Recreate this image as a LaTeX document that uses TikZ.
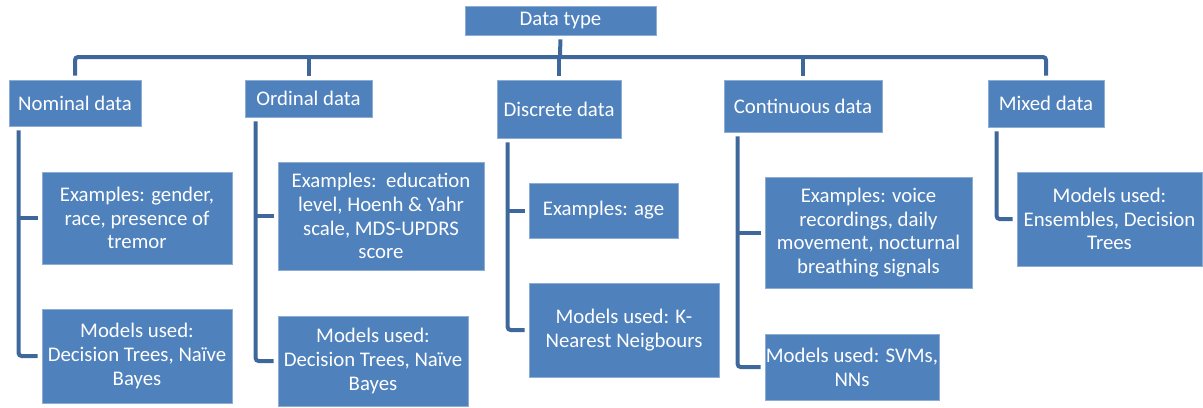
\documentclass[tikz,border=0pt]{standalone}
\usepackage{fontspec}
\setmainfont{Carlito}
\definecolor{boxblue}{RGB}{79, 129, 189}
\definecolor{linkblue}{RGB}{62, 104, 156}
\usetikzlibrary{positioning, calc}

\begin{document}
\begin{tikzpicture}[x=0.5pt, y=-0.5pt,
	box/.style={draw=boxblue!65!white, line width=0.4pt, fill=boxblue, text=white,
		align=center, inner sep=0pt, font=\fontsize{10.4}{11.9}\selectfont},
	link/.style={draw=linkblue, line width=2pt, rounded corners=1.5pt,
		shorten <=2pt, shorten >=2pt}]
	\useasboundingbox (0,0) rectangle (1203,407);

	\node[box, minimum width=95.5pt, minimum height=14.5pt] (top) at (560.5,20.5) {Data type};

	\node[box, minimum width=66pt, minimum height=23pt] (nom) at (75,103) {Nominal data};
	\node[box, minimum width=63.5pt, minimum height=18.5pt] (ord) at (308.5,98.5) {Ordinal data};
	\node[box, minimum width=62pt, minimum height=29pt] (dis) at (559,109) {Discrete data};
	\node[box, minimum width=79pt, minimum height=26pt] (con) at (803,106) {Continuous data};
	\node[box, minimum width=58pt, minimum height=23.5pt] (mix) at (1046,103.5) {Mixed data};

	\node[box, minimum width=95pt, minimum height=46pt] (nomEx) at (137,218)
		{Examples: gender,\\race, presence of\\tremor};
	\node[box, minimum width=95pt, minimum height=47pt] (nomMod) at (137,356)
		{Models used:\\Decision Trees, Naïve\\Bayes};
	\node[box, minimum width=103pt, minimum height=54pt] (ordEx) at (381,216)
		{Examples:\ \ education\\level, Hoenh \& Yahr\\scale, MDS-UPDRS\\score};
	\node[box, minimum width=95pt, minimum height=45pt] (ordMod) at (373,361)
		{Models used:\\Decision Trees, Naïve\\Bayes};
	\node[box, minimum width=74.5pt, minimum height=27.5pt] (disEx) at (603.5,210.5)
		{Examples: age};
	\node[box, minimum width=95pt, minimum height=47pt] (disMod) at (624,330)
		{Models used: K-\\Nearest Neigbours};
	\node[box, minimum width=103.5pt, minimum height=55.5pt] (conEx) at (868.5,232.5)
		{Examples: voice\\recordings, daily\\movement, nocturnal\\breathing signals};
	\node[box, minimum width=87pt, minimum height=33pt] (conMod) at (852,367)
		{Models used: SVMs,\\NNs};
	\node[box, minimum width=92.5pt, minimum height=47pt] (mixMod) at (1109.5,219)
		{Models used:\\Ensembles, Decision\\Trees};

	% top level
	\coordinate (hub) at (560,57);
	\draw[link, shorten >=0pt] (top.south) -- (hub);
	\draw[link] (nom.north) -- (nom.north |- hub) -| (mix.north);
	\foreach \c in {ord,dis,con}
		\draw[link, shorten <=0pt] (\c.north |- hub) -- (\c.north);

	% side branches
	\foreach \c/\d/\e/\s in {nom/nomEx/nomMod/5, ord/ordEx/ordMod/5.5, dis/disEx/disMod/5.5, con/conEx/conMod/7}
	{
		\draw[link] ([xshift=\s pt]\c.south west) |- (\e.west);
		\draw[link, shorten <=0pt] ([xshift=\s pt]\c.south west |- \d.west) -- (\d.west);
	}
	\draw[link] ([xshift=4.5pt]mix.south west) |- (mixMod.west);
\end{tikzpicture}
\end{document}
